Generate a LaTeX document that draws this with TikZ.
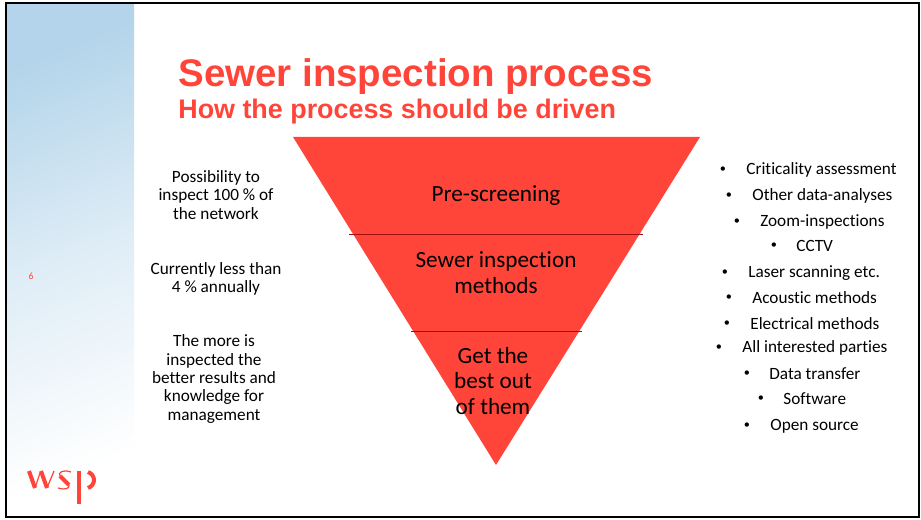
\documentclass[tikz,border=0pt]{standalone}
\usepackage{xcolor}
\usepackage{fontspec}
\setmainfont[Ligatures=NoCommon]{Carlito}
\newfontfamily\titlefont{Liberation Sans}
\definecolor{wspred}{HTML}{FF4539}
\definecolor{panelblue}{HTML}{B3D4EA}
\definecolor{splitred}{HTML}{A01010}
\usetikzlibrary{positioning}
\tikzset{
    sidetext/.style={align=center,font=\fontsize{9.8}{10.4}\selectfont,inner sep=0pt},
    listtext/.style={anchor=west,font=\fontsize{9.8}{11}\selectfont,inner sep=0pt},
    listdot/.style={font=\fontsize{7}{11}\selectfont,inner sep=0pt},
    layertext/.style={align=center,font=\fontsize{13.2}{14.7}\selectfont,inner sep=0pt},
    logostroke/.style={draw=wspred,line width=2.3pt},
    logothin/.style={draw=wspred,line width=0.7pt}
}

\begin{document}
\begin{tikzpicture}[x=0.02cm,y=-0.02cm]
    \useasboundingbox (0,0) rectangle (921,520);
    \fill[white] (0,0) rectangle (921,520);
    % Panel on the left
    \shade[top color=panelblue,bottom color=white,middle color=panelblue!42,shading angle=22] (7,4) rectangle (134,516);
    % Funnel
    \fill[wspred] (293,137) -- (700,137) -- (496,465) -- cycle;
    \coordinate (splitAw) at (349,234);
    \coordinate (splitAe) at (643,234);
    \coordinate (splitBw) at (411,331);
    \coordinate (splitBe) at (582,331);
    \draw[splitred,line width=0.5pt] (splitAw) -- (splitAe);
    \draw[splitred,line width=0.5pt] (splitBw) -- (splitBe);
    % Heading
    \node[anchor=west,inner sep=0pt,text=wspred,font=\titlefont\bfseries\fontsize{21.9}{24}\selectfont] (title) at (178,77) {Sewer inspection process};
    \node[anchor=west,inner sep=0pt,text=wspred,font=\titlefont\bfseries\fontsize{15.3}{18}\selectfont] (subtitle) at (178,112) {How the process should be driven};
    % Text inside the funnel
    \node[layertext] (layerA) at (496,196) {Pre-screening};
    \node[layertext] (layerB) at (496,273) {Sewer inspection\\methods};
    \node[layertext] (layerC) at (493,381) {Get the\\best out\\of them};
    % Column on the left
    \node[sidetext] (noteA) at (216,195) {Possibility to\\inspect 100 \% of\\the network};
    \node[sidetext] (noteB) at (216,279) {Currently less than\\4 \% annually};
    \node[sidetext] (noteC) at (214,379) {The more is\\inspected the\\better results and\\knowledge for\\management};
    % Column on the right
    \foreach \i/\bx/\tx/\y/\txt in {1/723/746/170/Criticality assessment, 2/729/752/196/Other data-analyses,
        3/737/760/222/Zoom-inspections, 4/774/796/246/CCTV, 5/725/748/273/Laser scanning etc.,
        6/729/752/298/Acoustic methods, 7/727/750/324/Electrical methods, 8/719/742/348/All interested parties,
        9/747/769/374/Data transfer, 10/761/783/399/Software, 11/747/770/426/Open source} {
        \node[listdot] (dot\i) at (\bx,\y) {•};
        \node[listtext] (item\i) at (\tx,\y) {\txt};
    }
    % Page number
    \node[inner sep=0pt,text=wspred,font=\fontsize{5.5}{6}\selectfont] (pagenum) at (31,276) {6};
    % Logo
    \draw[logostroke] (29,471) -- (35,488);
    \draw[logostroke] (41,471) -- (47,488);
    \draw[logothin] (35,488) -- (40,473);
    \draw[logothin] (47,488) -- (54,471);
    \draw[logothin] (71,472) .. controls (62,469) and (58,473) .. (60,476);
    \draw[logostroke] (60,476) -- (69,485);
    \draw[logothin] (69,485) .. controls (70,489) and (64,490) .. (58,488);
    \draw[logostroke] (79,471) -- (79,504);
    \draw[logostroke] (88,472) .. controls (96,475) and (96,485) .. (88,488);
    % Frame
    \draw[black,line width=1.2pt] (6,3) rectangle (919,517);
\end{tikzpicture}
\end{document}
